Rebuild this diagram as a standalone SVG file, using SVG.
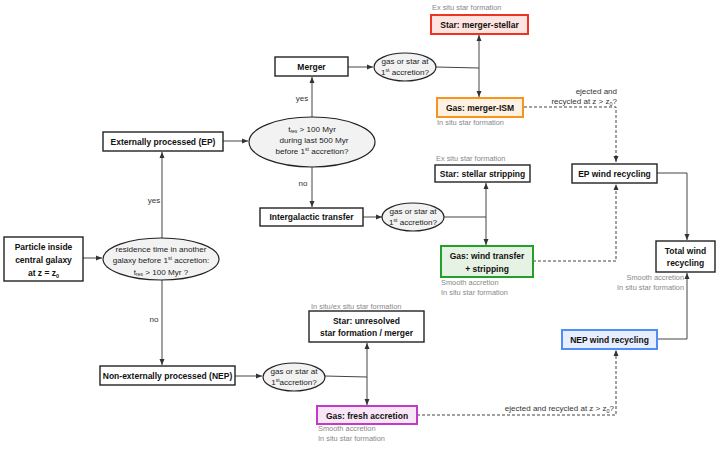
<svg xmlns="http://www.w3.org/2000/svg" width="720" height="450" viewBox="0 0 720 450">
<defs>
<marker id="ah" viewBox="0 0 6 6" refX="6" refY="3" markerWidth="6" markerHeight="6" markerUnits="userSpaceOnUse" orient="auto-start-reverse"><path d="M0,0.5 L6,3 L0,5.5 z" fill="#333"/></marker>
<style>
.bx{fill:#fff;stroke:#222;stroke-width:1.4}
.el{fill:#f2f2f2;stroke:#222;stroke-width:1.2}
.t{font-family:"Liberation Sans",Arial,sans-serif;font-size:8.5px;font-weight:bold;fill:#111;text-anchor:middle}
.e{font-family:"Liberation Sans",Arial,sans-serif;font-size:8.1px;fill:#222;text-anchor:middle}
.g{font-family:"Liberation Sans",Arial,sans-serif;font-size:7.4px;fill:#888}
.l{font-family:"Liberation Sans",Arial,sans-serif;font-size:8px;fill:#333}
.c{fill:none;stroke:#444;stroke-width:1}
.d{fill:none;stroke:#444;stroke-width:1;stroke-dasharray:3,2}
</style>
</defs>
<rect width="720" height="450" fill="#fff"/>
<g id="connectors">
<line class="c" x1="83" y1="258" x2="102" y2="258" marker-end="url(#ah)"/>
<line class="c" x1="162" y1="238" x2="162" y2="152" marker-end="url(#ah)"/>
<line class="c" x1="162" y1="280" x2="162" y2="365" marker-end="url(#ah)"/>
<line class="c" x1="223" y1="141" x2="248" y2="141" marker-end="url(#ah)"/>
<line class="c" x1="312" y1="117" x2="312" y2="77" marker-end="url(#ah)"/>
<line class="c" x1="312" y1="167" x2="312" y2="207" marker-end="url(#ah)"/>
<line class="c" x1="348" y1="67" x2="373" y2="67" marker-end="url(#ah)"/>
<polyline class="c" points="436,67 479,68"/>
<line class="c" x1="479" y1="35" x2="479" y2="97" marker-start="url(#ah)" marker-end="url(#ah)"/>
<line class="c" x1="363" y1="217" x2="382" y2="217" marker-end="url(#ah)"/>
<polyline class="c" points="444,217 486,217"/>
<line class="c" x1="486" y1="183" x2="486" y2="245" marker-start="url(#ah)" marker-end="url(#ah)"/>
<line class="c" x1="235" y1="376" x2="262" y2="376" marker-end="url(#ah)"/>
<polyline class="c" points="325,376 367,377"/>
<line class="c" x1="367" y1="343" x2="367" y2="405" marker-start="url(#ah)" marker-end="url(#ah)"/>
<polyline class="d" points="524,107 616,107 616,162" marker-end="url(#ah)"/>
<polyline class="d" points="533,261 616,261 616,184" marker-end="url(#ah)"/>
<polyline class="d" points="417,415 616,415 616,350" marker-end="url(#ah)"/>
<polyline class="c" points="657,173 687,173 687,240" marker-end="url(#ah)"/>
<polyline class="c" points="657,339 687,339 687,273" marker-end="url(#ah)"/>
<text class="l" x="154" y="203" text-anchor="middle">yes</text>
<text class="l" x="154" y="322" text-anchor="middle">no</text>
<text class="l" x="302" y="101" text-anchor="middle">yes</text>
<text class="l" x="303" y="186" text-anchor="middle">no</text>
<text class="l" x="617" y="94" text-anchor="end">ejected and</text>
<text class="l" x="617" y="104" text-anchor="end">recycled at z &gt; z<tspan font-size="5.5" dy="2">0</tspan><tspan dy="-2">?</tspan></text>
<text class="l" x="614" y="411" text-anchor="end">ejected and recycled at z &gt; z<tspan font-size="5.5" dy="2">0</tspan><tspan dy="-2">?</tspan></text>
</g>
<g id="particle"><rect class="bx" x="4" y="237" width="79" height="44"/>
<text class="t" x="43.5" y="250">Particle inside</text><text class="t" x="43.5" y="263">central galaxy</text><text class="t" x="43.5" y="276">at z = z<tspan font-size="5.5" dy="2">0</tspan></text></g>
<g id="q1"><ellipse class="el" cx="161" cy="259" rx="58" ry="21"/>
<text class="e" x="161" y="252">residence time in another</text>
<text class="e" x="161" y="263">galaxy before 1<tspan font-size="5" dy="-3">st</tspan><tspan dy="3"> accretion:</tspan></text>
<text class="e" x="161" y="275">t<tspan font-size="5" dy="1">res</tspan><tspan dy="-1"> &gt; 100 Myr ?</tspan></text></g>
<g id="ep"><rect class="bx" x="103" y="132" width="120" height="19"/><text class="t" x="163" y="144.5">Externally processed (EP)</text></g>
<g id="q2"><ellipse class="el" cx="312" cy="142" rx="63" ry="25"/>
<text class="e" x="312" y="132">t<tspan font-size="5" dy="1">res</tspan><tspan dy="-1"> &gt; 100 Myr</tspan></text>
<text class="e" x="314" y="143">during last 500 Myr</text>
<text class="e" x="312" y="154">before 1<tspan font-size="5" dy="-3">st</tspan><tspan dy="3"> accretion?</tspan></text></g>
<g id="merger"><rect class="bx" x="275" y="57" width="73" height="19"/><text class="t" x="311.5" y="70">Merger</text></g>
<g id="q3"><ellipse class="el" cx="405" cy="67" rx="31" ry="14"/>
<text class="e" x="405" y="64">gas or star at</text>
<text class="e" x="405" y="75">1<tspan font-size="5" dy="-3">st</tspan><tspan dy="3"> accretion?</tspan></text></g>
<g id="star-merger"><text class="g" x="432" y="10">Ex situ star formation</text>
<rect x="431" y="15" width="97" height="19" fill="#fde4e0" stroke="#ee3322" stroke-width="2"/><text class="t" x="479.5" y="28">Star: merger-stellar</text></g>
<g id="gas-merger"><rect x="437" y="98" width="86" height="19" fill="#fff1e2" stroke="#f7941d" stroke-width="2"/><text class="t" x="480" y="111">Gas: merger-ISM</text>
<text class="g" x="437" y="125">In situ star formation</text></g>
<g id="intergalactic"><rect class="bx" x="260" y="208" width="103" height="18"/><text class="t" x="311.5" y="220">Intergalactic transfer</text></g>
<g id="q4"><ellipse class="el" cx="413" cy="217" rx="31" ry="14"/>
<text class="e" x="413" y="214">gas or star at</text>
<text class="e" x="413" y="225">1<tspan font-size="5" dy="-3">st</tspan><tspan dy="3"> accretion?</tspan></text></g>
<g id="star-stripping"><text class="g" x="436" y="161">Ex situ star formation</text>
<rect class="bx" x="435" y="165" width="95" height="17"/><text class="t" x="482.5" y="176.5">Star: stellar stripping</text></g>
<g id="gas-wind"><rect x="441" y="246" width="92" height="31" fill="#e6f2e3" stroke="#22a02a" stroke-width="2"/>
<text class="t" x="487" y="258.5">Gas: wind transfer</text><text class="t" x="487" y="271.5">+ stripping</text>
<text class="g" x="441" y="285">Smooth accretion</text><text class="g" x="441" y="295">In situ star formation</text></g>
<g id="ep-wind"><rect class="bx" x="572" y="164" width="85" height="19"/><text class="t" x="614.5" y="176.5">EP wind recycling</text></g>
<g id="total"><rect class="bx" x="656" y="241" width="59" height="31"/><text class="t" x="685.5" y="253.5">Total wind</text><text class="t" x="685.5" y="266">recycling</text>
<text class="g" x="684" y="280" text-anchor="end">Smooth accretion</text><text class="g" x="684" y="290" text-anchor="end">In situ star formation</text></g>
<g id="nep-wind"><rect x="562" y="330" width="95" height="19" fill="#e6eeff" stroke="#4d8df5" stroke-width="2"/><text class="t" x="609.5" y="342.5">NEP wind recycling</text></g>
<g id="nep"><rect class="bx" x="100" y="366" width="135" height="19"/><text class="t" x="167.5" y="378.5">Non-externally processed (NEP)</text></g>
<g id="q5"><ellipse class="el" cx="294" cy="377" rx="31" ry="14"/>
<text class="e" x="294" y="374">gas or star at</text>
<text class="e" x="294" y="385">1<tspan font-size="5" dy="-3">st</tspan><tspan dy="3">accretion?</tspan></text></g>
<g id="star-unresolved"><text class="g" x="311" y="308.5">In situ/ex situ star formation</text>
<rect class="bx" x="309" y="311" width="115" height="31"/><text class="t" x="366.5" y="324">Star: unresolved</text><text class="t" x="366.5" y="336">star formation / merger</text></g>
<g id="gas-fresh"><rect x="317" y="406" width="100" height="18" fill="#f8e6f6" stroke="#c03cc8" stroke-width="2"/><text class="t" x="367" y="418.5">Gas: fresh accretion</text>
<text class="g" x="318" y="431">Smooth accretion</text><text class="g" x="318" y="441">In situ star formation</text></g>
</svg>
